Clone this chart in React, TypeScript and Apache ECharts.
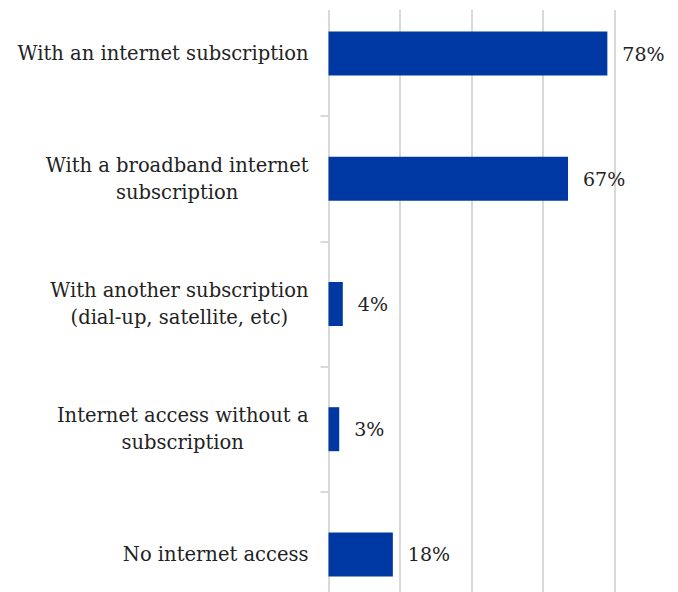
import React, { useEffect, useRef } from "react";
import * as echarts from "echarts";

const categories = [
  "With an internet subscription",
  "With a broadband internet\nsubscription",
  "With another subscription\n(dial-up, satellite, etc)",
  "Internet access without a\nsubscription",
  "No internet access",
];
const values = [78, 67, 4, 3, 18];
const axisMax = 80;
const axisInterval = 20;

const FONT = "'DejaVu Serif', serif";
const TEXT = "#222222";
const GRID = "#d9d9d9";

export default function App() {
  const ref = useRef<HTMLDivElement>(null);
  useEffect(() => {
    if (!ref.current) return;
    const chart = echarts.init(ref.current, null, { renderer: "svg" });
    chart.setOption({
      animation: false,
      backgroundColor: "#ffffff",
      grid: {
        left: 328.5,
        top: -9,
        width: 286,
        height: 626,
        containLabel: false,
        outerBoundsMode: "none",
      },
      xAxis: {
        type: "value",
        min: 0,
        max: axisMax,
        interval: axisInterval,
        axisLabel: { show: false },
        axisLine: { show: false },
        axisTick: { show: false },
        splitLine: { show: true, lineStyle: { color: GRID, width: 2 } },
      },
      yAxis: {
        type: "category",
        data: categories,
        inverse: true,
        axisLine: { show: true, lineStyle: { color: GRID, width: 2 } },
        axisTick: { show: true, length: 8, lineStyle: { color: GRID, width: 2 } },
        axisLabel: {
          margin: 20,
          formatter: (v: string) => v.split("\n").map((l) => `{c|${l}}`).join("\n"),
          rich: {
            c: { align: "center", fontFamily: FONT, fontSize: 19.5, color: TEXT, lineHeight: 27 },
          },
        },
      },
      series: [
        {
          type: "bar",
          data: values,
          barWidth: 44,
          itemStyle: { color: "#0038A3" },
          label: {
            show: true,
            position: "right",
            distance: 15,
            formatter: (p: any) => `${p.value}%`,
            fontFamily: FONT,
            fontSize: 19,
            color: TEXT,
          },
        },
      ],
      graphic: [
        {
          type: "rect",
          z: 100,
          shape: { x: 300, y: 0, width: 378, height: 10 },
          style: { fill: "#ffffff" },
        },
      ],
    });
    return () => chart.dispose();
  }, []);
  return (
    <div
      ref={ref}
      style={{ position: "fixed", left: 0, top: 0, width: 678, height: 592 }}
    />
  );
}
